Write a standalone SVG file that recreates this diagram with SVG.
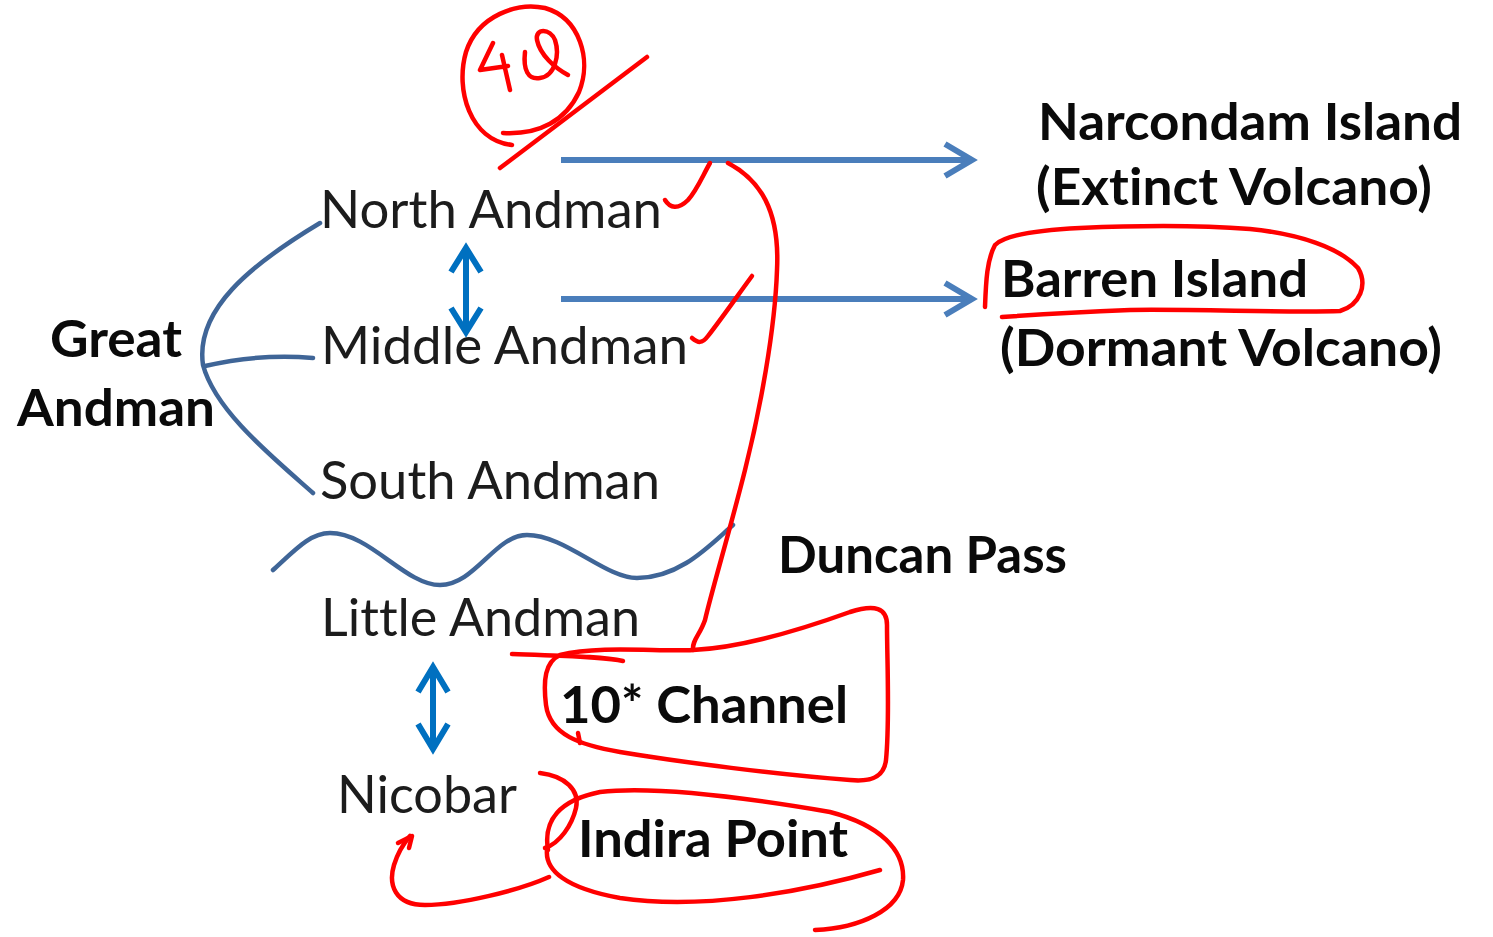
<svg xmlns="http://www.w3.org/2000/svg" width="1493" height="937" viewBox="0 0 1493 937">
<style>
.t{font-family:Lato,"Open Sans","Liberation Sans",sans-serif;font-size:52px;fill:#1c1c1c;font-variant-ligatures:none}
.b{font-family:Lato,"Open Sans","Liberation Sans",sans-serif;font-size:52px;font-weight:bold;fill:#0a0a0a;font-variant-ligatures:none}
.blue{fill:none;stroke:#4a7ebb;stroke-width:6}
.dark{fill:none;stroke:#3f6597;stroke-width:4.5;stroke-linecap:round}
.dbl{fill:none;stroke:#0070c0;stroke-width:6}
.red{fill:none;stroke:#ff0000;stroke-width:4.5;stroke-linecap:round;stroke-linejoin:round}
</style>
<rect width="1493" height="937" fill="#ffffff"/>
<g id="connectors">
  <path class="blue" d="M561 160 H970"/>
  <path class="blue" d="M945 144 L972 160 L945 176" stroke-linejoin="miter"/>
  <path class="blue" d="M561 299 H970"/>
  <path class="blue" d="M945 283 L972 299 L945 315" stroke-linejoin="miter"/>
  <path class="dark" d="M320 223 C250 265,195 310,203 365 C215 410,270 455,313 493"/>
  <path class="dark" d="M205 366 C240 358,280 355,313 358"/>
  <path class="dark" d="M273 570 C295 550,310 533,330 533 C370 533,405 585,440 585 C475 585,495 535,527 535 C565 535,605 578,637 578 C680 578,710 545,733 525"/>
  <path class="dbl" d="M466 250 V331"/>
  <path class="dbl" d="M451 272 L466 248 L481 272 M451 308 L466 332 L481 308"/>
  <path class="dbl" d="M433 669 V748"/>
  <path class="dbl" d="M418 692 L433 667 L448 692 M418 724 L433 749 L448 724"/>
</g>
<g id="annotations">
  <path class="red" d="M512 145 C470 140,455 90,466 52 C478 15,518 2,545 8 C580 18,592 60,579 92 C566 120,540 135,503 133"/>
  <path class="red" d="M493 43 L480 70 L508 66 M502 55 L510 90"/>
  <path class="red" d="M525 52 C523 70,528 80,540 78 C555 76,560 55,555 40 C550 28,535 28,537 40 C540 55,555 68,568 75"/>
  <path class="red" d="M500 168 L647 57"/>
  <path class="red" d="M665 200 C670 208,678 210,688 200 C697 190,703 175,710 163"/>
  <path class="red" d="M692 338 C698 343,702 344,708 336 C722 318,738 295,752 276"/>
  <path class="red" d="M728 163 C760 180,780 210,777 270 C775 330,760 410,745 470 C730 530,712 590,705 620 C700 635,692 640,693 650"/>
  <path class="red" d="M693 650 C740 648,800 630,850 612 C875 604,887 608,887 625 C887 660,890 720,886 760 C884 778,870 782,850 780 C780 775,680 762,620 752 C580 745,550 735,546 705 C543 680,545 662,560 655 C600 645,660 652,693 650"/>
  <path class="red" d="M512 654 C560 656,600 656,623 661"/>
  <path class="red" d="M578 733 L580 743"/>
  <path class="red" d="M985 307 C986 280,987 260,995 245 C1005 235,1040 230,1080 228 C1150 225,1210 226,1250 229 C1300 234,1340 248,1358 268 C1368 285,1360 305,1340 311 C1290 313,1200 309,1130 310 C1080 312,1030 315,1002 317"/>
  <path class="red" d="M540 773 C565 776,580 790,576 808 C572 825,560 843,545 848"/>
  <path class="red" d="M548 850 C543 820,560 800,600 792 C660 785,760 800,830 812 C880 825,905 850,903 880 C900 910,860 928,815 930"/>
  <path class="red" d="M547 850 C545 870,565 888,620 898 C700 910,800 893,880 870"/>
  <path class="red" d="M549 877 C520 890,460 905,425 905 C395 905,388 885,394 865 C398 852,404 843,410 836"/>
  <path class="red" d="M398 843 L412 836 L409 848"/>
</g>
<g id="great-andman"><text class="b" x="50" y="357" textLength="132" lengthAdjust="spacingAndGlyphs">Great</text><text class="b" x="17" y="426" textLength="198" lengthAdjust="spacingAndGlyphs">Andman</text></g>
<g id="north-andman"><text class="t" x="320" y="228" textLength="342" lengthAdjust="spacingAndGlyphs">North Andman</text></g>
<g id="middle-andman"><text class="t" x="321" y="364" textLength="367" lengthAdjust="spacingAndGlyphs">Middle Andman</text></g>
<g id="south-andman"><text class="t" x="320" y="499" textLength="340" lengthAdjust="spacingAndGlyphs">South Andman</text></g>
<g id="little-andman"><text class="t" x="321" y="636" textLength="319" lengthAdjust="spacingAndGlyphs">Little Andman</text></g>
<g id="nicobar"><text class="t" x="337" y="813" textLength="180" lengthAdjust="spacingAndGlyphs">Nicobar</text></g>
<g id="narcondam"><text class="b" x="1038" y="140" textLength="424" lengthAdjust="spacingAndGlyphs">Narcondam Island</text><text class="b" x="1036" y="205" textLength="396" lengthAdjust="spacingAndGlyphs">(Extinct Volcano)</text></g>
<g id="barren"><text class="b" x="1001" y="297" textLength="307" lengthAdjust="spacingAndGlyphs">Barren Island</text><text class="b" x="1000" y="366" textLength="442" lengthAdjust="spacingAndGlyphs">(Dormant Volcano)</text></g>
<g id="duncan-pass"><text class="b" x="778" y="573" textLength="289" lengthAdjust="spacingAndGlyphs">Duncan Pass</text></g>
<g id="ten-channel"><text class="b" x="560" y="723" textLength="288" lengthAdjust="spacingAndGlyphs">10* Channel</text></g>
<g id="indira-point"><text class="b" x="578" y="857" textLength="270" lengthAdjust="spacingAndGlyphs">Indira Point</text></g>
</svg>
